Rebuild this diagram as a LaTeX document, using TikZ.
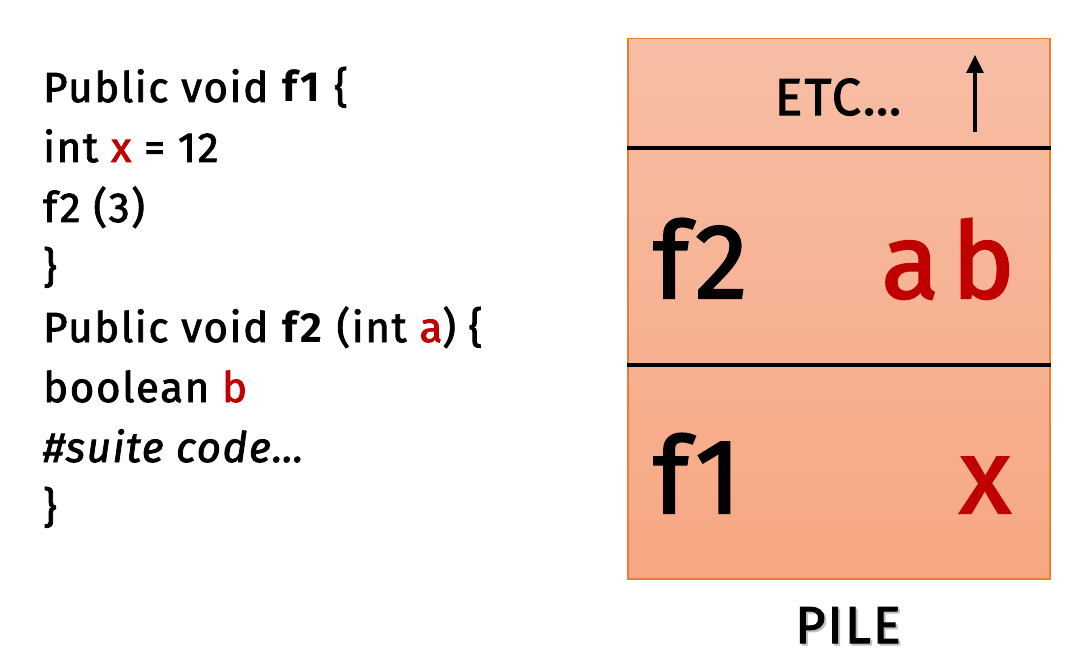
\documentclass[tikz,border=0pt]{standalone}
\usepackage{fontspec}
\setmainfont{Fira Sans}[UprightFeatures={FakeBold=2},ItalicFeatures={FakeBold=2},
  LetterSpace=4]
\usepackage{tikz}
\usetikzlibrary{arrows.meta}
\usetikzlibrary{positioning}

\definecolor{codered}{RGB}{192,0,0}
\definecolor{pileborder}{RGB}{237,125,49}
\definecolor{piletop}{RGB}{247,190,165}
\definecolor{pilebottom}{RGB}{247,167,131}

\begin{document}
\begin{tikzpicture}[x=1pt,y=-1pt,
  code/.style={anchor=base west,inner sep=0pt,font=\fontsize{42}{47}\selectfont},
  framename/.style={anchor=base west,inner sep=0pt,font=\fontsize{106}{120}\selectfont},
  framevar/.style={anchor=base east,inner sep=0pt,text=codered,font=\fontsize{106}{120}\selectfont},
  small/.style={anchor=base,inner sep=0pt,font=\fontsize{52}{60}\selectfont},
  cut/.style={line width=4pt}]

  \useasboundingbox (0,0) rectangle (1077,658);

  % the code
  \node[code] (l1) at (43,102) {Public void \textbf{f1} \{};
  \node[code] (l2) at (43,162) {int \textcolor{codered}{x} = 12};
  \node[code] (l3) at (43,222) {f2 (3)};
  \node[code] (l4) at (43,282) {\}};
  \node[code] (l5) at (43,342) {Public void \textbf{f2} (int \textcolor{codered}{a}) \{};
  \node[code] (l6) at (43,402) {boolean \textcolor{codered}{b}};
  \node[code] (l7) at (43,462) {\itshape \#suite code…};
  \node[code] (l8) at (43,522) {\}};

  % the stack
  \node[draw=pileborder,line width=1.5pt,top color=piletop,bottom color=pilebottom,
        minimum width=422pt,minimum height=540pt,inner sep=0pt,anchor=north west]
        (pile) at (627,38) {};

  \coordinate (cut1) at (0,148);
  \coordinate (cut2) at (0,365);
  \draw[cut] (pile.west |- cut1) -- (pile.east |- cut1);
  \draw[cut] (pile.west |- cut2) -- (pile.east |- cut2);

  \node[small] (etc) at (838,115) {ETC…};
  \coordinate (up0) at (975,132);
  \coordinate (up1) at (975,55);
  \draw[-{Triangle[length=18pt,width=17pt]},line width=3.2pt] (up0) -- (up1);

  \node[framename] (f2) at (653,298) {f2};
  \node[framevar] (ab) at (1015,298) {a\hspace{0.12em}b};
  \node[framename] (f1) at (653,513) {f1};
  \node[framevar] (x) at (1011,513) {x};

  \node[small,text=black!25] (pileshadow) at (850,645) {PILE};
  \node[small] (pilename) at (848,643) {PILE};

\end{tikzpicture}
\end{document}
